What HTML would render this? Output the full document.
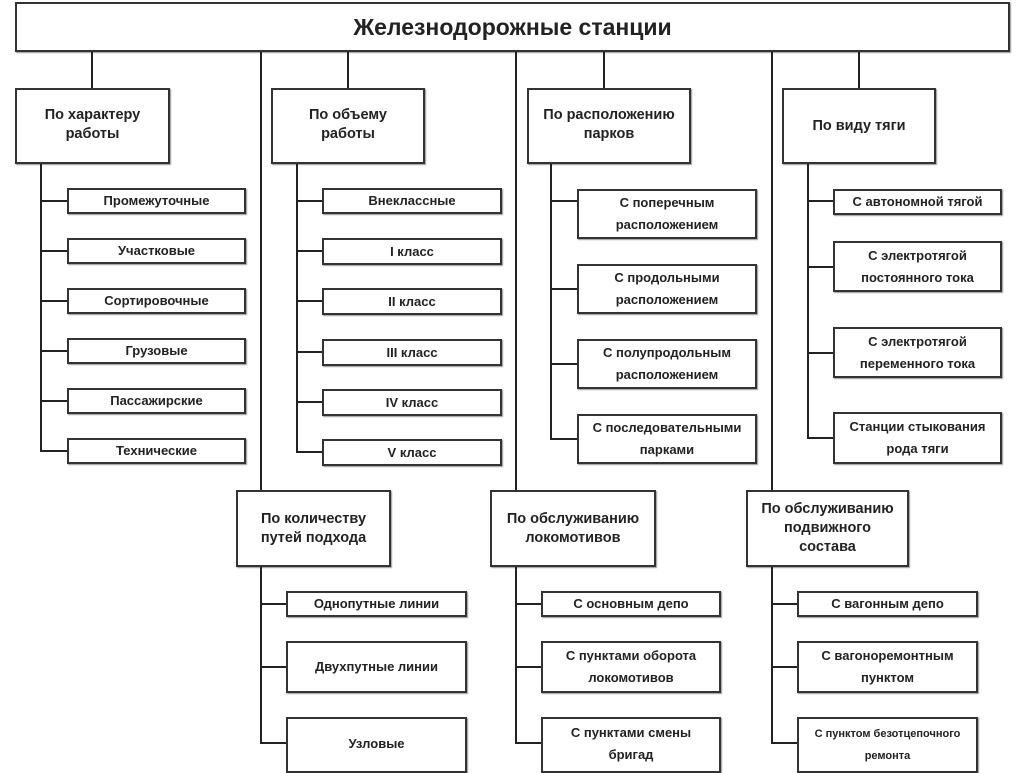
<!DOCTYPE html>
<html><head><meta charset="utf-8"><style>
body{margin:0;width:1024px;height:767px;background:#fff;position:relative;overflow:hidden;font-family:"Liberation Sans",sans-serif;font-weight:bold;color:#222}
.b{position:absolute;box-sizing:border-box;border:2px solid #333;background:#fff;display:flex;align-items:center;justify-content:center;text-align:center;font-size:13px;line-height:22px;box-shadow:1px 1px 1px #999}
.c{font-size:14.5px;line-height:19px}
.v,.h{position:absolute;background:#222}
.v{width:2px}.h{height:2px}
</style></head><body>
<div class="b" style="left:15px;top:2px;width:995px;height:50px;font-size:23px">Железнодорожные станции</div>
<!-- top verticals -->
<div class="v" style="left:91px;top:52px;height:36px"></div>
<div class="v" style="left:347px;top:52px;height:36px"></div>
<div class="v" style="left:603px;top:52px;height:36px"></div>
<div class="v" style="left:858px;top:52px;height:36px"></div>
<div class="v" style="left:260px;top:52px;height:438px"></div>
<div class="v" style="left:515px;top:52px;height:438px"></div>
<div class="v" style="left:771px;top:52px;height:438px"></div>

<div class="b c" style="left:15px;top:88px;width:155px;height:76px;align-items:flex-start;padding-top:16px">По характеру<br>работы</div>
<div class="b c" style="left:271px;top:88px;width:154px;height:76px;align-items:flex-start;padding-top:16px">По объему<br>работы</div>
<div class="b c" style="left:527px;top:88px;width:164px;height:76px;align-items:flex-start;padding-top:16px">По расположению<br>парков</div>
<div class="b c" style="left:782px;top:88px;width:154px;height:76px">По виду тяги</div>

<!-- A -->
<div class="v" style="left:40px;top:164px;height:288px"></div>
<div class="h" style="left:40px;top:200px;width:27px"></div>
<div class="h" style="left:40px;top:250px;width:27px"></div>
<div class="h" style="left:40px;top:300px;width:27px"></div>
<div class="h" style="left:40px;top:350px;width:27px"></div>
<div class="h" style="left:40px;top:400px;width:27px"></div>
<div class="h" style="left:40px;top:450px;width:27px"></div>
<div class="b" style="left:67px;top:188px;width:179px;height:26px">Промежуточные</div>
<div class="b" style="left:67px;top:238px;width:179px;height:26px">Участковые</div>
<div class="b" style="left:67px;top:288px;width:179px;height:26px">Сортировочные</div>
<div class="b" style="left:67px;top:338px;width:179px;height:26px">Грузовые</div>
<div class="b" style="left:67px;top:388px;width:179px;height:26px">Пассажирские</div>
<div class="b" style="left:67px;top:438px;width:179px;height:26px">Технические</div>
<!-- B -->
<div class="v" style="left:296px;top:164px;height:288px"></div>
<div class="h" style="left:296px;top:200px;width:26px"></div>
<div class="h" style="left:296px;top:250px;width:26px"></div>
<div class="h" style="left:296px;top:300px;width:26px"></div>
<div class="h" style="left:296px;top:351px;width:26px"></div>
<div class="h" style="left:296px;top:401px;width:26px"></div>
<div class="h" style="left:296px;top:451px;width:26px"></div>
<div class="b" style="left:322px;top:188px;width:180px;height:26px">Внеклассные</div>
<div class="b" style="left:322px;top:238px;width:180px;height:27px">I класс</div>
<div class="b" style="left:322px;top:288px;width:180px;height:27px">II класс</div>
<div class="b" style="left:322px;top:339px;width:180px;height:27px">III класс</div>
<div class="b" style="left:322px;top:389px;width:180px;height:27px">IV класс</div>
<div class="b" style="left:322px;top:439px;width:180px;height:27px">V класс</div>
<!-- C -->
<div class="v" style="left:550px;top:164px;height:276px"></div>
<div class="h" style="left:550px;top:200px;width:27px"></div>
<div class="h" style="left:550px;top:288px;width:27px"></div>
<div class="h" style="left:550px;top:363px;width:27px"></div>
<div class="h" style="left:550px;top:438px;width:27px"></div>
<div class="b" style="left:577px;top:189px;width:180px;height:50px">С поперечным<br>расположением</div>
<div class="b" style="left:577px;top:264px;width:180px;height:50px">С продольными<br>расположением</div>
<div class="b" style="left:577px;top:339px;width:180px;height:50px">С полупродольным<br>расположением</div>
<div class="b" style="left:577px;top:414px;width:180px;height:50px">С последовательными<br>парками</div>
<!-- D -->
<div class="v" style="left:807px;top:164px;height:274px"></div>
<div class="h" style="left:807px;top:200px;width:26px"></div>
<div class="h" style="left:807px;top:266px;width:26px"></div>
<div class="h" style="left:807px;top:352px;width:26px"></div>
<div class="h" style="left:807px;top:437px;width:26px"></div>
<div class="b" style="left:833px;top:189px;width:169px;height:26px">С автономной тягой</div>
<div class="b" style="left:833px;top:241px;width:169px;height:51px">С электротягой<br>постоянного тока</div>
<div class="b" style="left:833px;top:327px;width:169px;height:51px">С электротягой<br>переменного тока</div>
<div class="b" style="left:833px;top:412px;width:169px;height:52px">Станции стыкования<br>рода тяги</div>

<!-- row 2 -->
<div class="b c" style="left:236px;top:490px;width:155px;height:77px">По количеству<br>путей подхода</div>
<div class="b c" style="left:490px;top:490px;width:166px;height:77px">По обслуживанию<br>локомотивов</div>
<div class="b c" style="left:746px;top:490px;width:163px;height:77px;align-items:flex-start;padding-top:8px">По обслуживанию<br>подвижного<br>состава</div>

<div class="v" style="left:260px;top:567px;height:176px"></div>
<div class="h" style="left:260px;top:603px;width:26px"></div>
<div class="h" style="left:260px;top:666px;width:26px"></div>
<div class="h" style="left:260px;top:742px;width:26px"></div>
<div class="b" style="left:286px;top:591px;width:181px;height:26px">Однопутные линии</div>
<div class="b" style="left:286px;top:641px;width:181px;height:52px">Двухпутные линии</div>
<div class="b" style="left:286px;top:717px;width:181px;height:56px;align-items:flex-start;padding-top:14px">Узловые</div>

<div class="v" style="left:515px;top:567px;height:176px"></div>
<div class="h" style="left:515px;top:603px;width:26px"></div>
<div class="h" style="left:515px;top:666px;width:26px"></div>
<div class="h" style="left:515px;top:742px;width:26px"></div>
<div class="b" style="left:541px;top:591px;width:180px;height:26px">С основным депо</div>
<div class="b" style="left:541px;top:641px;width:180px;height:52px">С пунктами оборота<br>локомотивов</div>
<div class="b" style="left:541px;top:717px;width:180px;height:56px;align-items:flex-start;padding-top:3px">С пунктами смены<br>бригад</div>

<div class="v" style="left:771px;top:567px;height:176px"></div>
<div class="h" style="left:771px;top:603px;width:26px"></div>
<div class="h" style="left:771px;top:666px;width:26px"></div>
<div class="h" style="left:771px;top:742px;width:26px"></div>
<div class="b" style="left:797px;top:591px;width:181px;height:26px">С вагонным депо</div>
<div class="b" style="left:797px;top:641px;width:181px;height:52px">С вагоноремонтным<br>пунктом</div>
<div class="b" style="left:797px;top:717px;width:181px;height:56px;align-items:flex-start;padding-top:4px;font-size:11px">С пунктом безотцепочного<br>ремонта</div>
</body></html>
